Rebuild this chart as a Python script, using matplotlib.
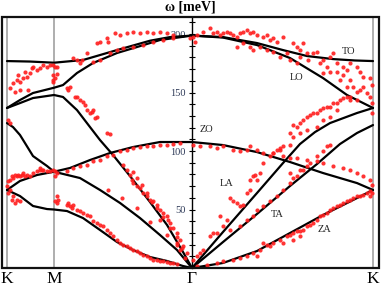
import matplotlib
matplotlib.use("Agg")
import matplotlib.pyplot as plt
import numpy as np
from matplotlib.patches import Rectangle
from matplotlib.ticker import FixedLocator, MultipleLocator

# high-symmetry points along the path (arbitrary path units)
sym_labels = ["K", "M", "Γ", "K"]
sym_q = [0, 47, 185, 366]
Q_G = 185

# calculated branches: path position q and energy E [meV]
to_q = [0, 23, 47, 76, 110, 143, 163, 185, 216, 250, 276, 300, 326, 348, 366]
to_E = [176.9, 176.5, 175.5, 177.8, 186.3, 194.3, 197.4, 198.7, 197.4, 192.3, 186.3, 181.2, 178.6, 177.4, 176.9]

lo_q = [0, 13, 26, 47, 56, 70, 86, 110, 130, 153, 185, 216, 250, 283, 316, 340, 366]
lo_E = [136.8, 143.6, 149.6, 154.1, 156.4, 166.7, 175.2, 183.8, 188.9, 194.9, 198.7, 197.0, 190.6, 179.5, 162.4, 147.9, 136.8]

la_q = [0, 13, 26, 47, 56, 70, 83, 93, 106, 123, 143, 160, 176, 185, 216, 250, 276, 293, 308, 323, 350, 366]
la_E = [136.8, 141.0, 145.3, 147.9, 146.2, 135.0, 120.5, 109.4, 96.6, 78.6, 56.4, 36.8, 13.7, 0.0,
        30.8, 64.1, 89.7, 106.0, 116.2, 123.9, 132.5, 136.8]

ta_q = [0, 6, 13, 18, 26, 40, 47, 73, 93, 113, 133, 153, 170, 185, 216, 250, 283, 310, 333, 350, 366]
ta_E = [123.9, 120.5, 113.7, 106.8, 95.7, 87.2, 82.3, 76.9, 66.7, 55.6, 42.7, 28.2, 15.4, 0.0,
        22.2, 46.2, 70.1, 88.9, 106.0, 115.4, 122.2]

zo_q = [0, 13, 30, 47, 63, 83, 103, 126, 153, 185, 216, 250, 283, 316, 350, 366]
zo_E = [66.7, 74.4, 79.5, 82.3, 85.5, 92.3, 98.3, 103.4, 107.7, 107.7, 105.1, 99.1, 90.6, 81.2, 72.6, 66.7]

za_q = [0, 13, 26, 40, 47, 60, 76, 93, 110, 126, 143, 160, 176, 185, 216, 250, 283, 316, 350, 366]
za_E = [66.7, 61.5, 53.0, 50.4, 50.0, 48.7, 42.7, 32.5, 22.2, 15.4, 9.4, 6.0, 1.7, 0.0,
        4.3, 14.5, 29.9, 45.3, 59.8, 66.7]

branches = [(to_q, to_E), (lo_q, lo_E), (la_q, la_E), (ta_q, ta_E), (zo_q, zo_E), (za_q, za_E)]

km_q = [3, 6, 10, 11, 13, 16, 18, 20, 23, 25, 26, 30, 33, 36, 40, 43, 46, 48, 50, 8, 13, 21, 46, 46,
        3, 1,
        0, 1, 3, 5, 6, 8, 10, 11, 13, 15, 16, 18, 20, 23, 26, 30, 33, 36, 40, 43, 46, 48, 50,
        1, 3, 6, 10, 13, 5, 8, 33, 35, 48, 50, 48, 51, 50]
km_E = [153.8, 158.1, 160.7, 165, 159, 162.4, 167.5, 163.2, 166.7, 170.9, 171.8, 169.2, 170.9, 173.5,
        171.8, 173.5, 173.5, 171.8, 171.8, 150.4, 152.1, 152.1, 165, 160.7,
        123.9, 126.5,
        70.1, 74.4, 75.2, 78.6, 76.9, 79.5, 78.6, 79.5, 78.6, 79.5, 81.2, 78.6, 79.5, 78.6, 81.2, 82.9,
        83.8, 83.8, 82.9, 82.9, 83.8, 82.9, 81.2,
        64.1, 66.7, 61.5, 58.1, 57.3, 58.1, 55.6, 85.5, 83.8, 78.6, 61.5, 57.3, 58.1, 55.6]

mg_q = [90, 93, 100, 101, 108, 113, 120, 126, 133, 140, 146, 153, 160, 166,
        103, 110, 116, 126, 136, 146, 156, 166, 93, 86, 80, 70, 73, 66, 75, 50, 48, 46,
        60, 61, 63, 70, 73, 76, 80, 83, 86, 90, 88, 100, 103, 68, 78, 85,
        60, 61, 63, 65, 66, 70, 73, 76, 80, 83, 86, 90, 93, 96, 100, 103, 106, 110, 113, 116,
        120, 123, 126, 130, 133, 136, 140, 143, 146, 150, 153, 156, 160, 163, 166, 170,
        60, 66, 73, 80, 86, 93, 100, 106, 113, 120, 126, 133, 140, 146, 153, 160, 166, 173,
        116, 120, 123, 125, 126, 130, 133, 136, 140, 143, 146, 150, 153, 156, 160, 161, 163, 166,
        170, 173, 176, 180, 130, 153, 170, 173,
        101, 115, 143, 160, 170, 126, 130, 135, 140, 145, 150, 156, 163, 170, 175, 178]
mg_E = [192.3, 193.2, 196.6, 193.2, 200.9, 199.1, 200.9, 201.7, 200.9, 201.7, 200.9, 201.7, 200.9, 199.1,
        183.8, 186.3, 188, 188.9, 190.6, 193.2, 194.9, 196.6, 177.8, 176.1, 183.8, 177.8, 175.2, 179.5,
        177.8, 166, 162, 159,
        153.8, 152.1, 154.7, 146.2, 143.6, 141.9, 135, 132.5, 135, 129.1, 128.2, 115.4, 114.5, 146.2,
        139.3, 133.3,
        53.8, 55.6, 53, 51.3, 53.8, 49.6, 48.7, 47, 45.3, 44.4, 40.2, 38.5, 36.8, 35.9, 32.5, 29.9,
        27.4, 23.9, 21.4, 19.7, 18.8, 17.1, 15.4, 14.5, 12.8, 11.1, 10.3, 8.5, 6.8, 6.8, 6, 6, 5.1,
        4.3, 4.3, 3.4,
        82.9, 85.5, 87.2, 88, 91.5, 92.3, 95.7, 96.6, 100, 100.9, 102.6, 103.4, 104.3, 104.3, 105.1,
        105.1, 106, 106.8,
        88, 83.8, 79.5, 75.2, 72.6, 70.1, 68.4, 64.1, 61.5, 58.1, 57.3, 53.8, 49.6, 47, 44.4, 41,
        38.5, 34.2, 29.9, 23.9, 18.8, 12.8, 51.3, 41, 21.4, 15.4,
        66.7, 59.8, 39.3, 28.2, 19.7, 82, 76.9, 70.9, 64.1, 56.4, 51.3, 43.6, 34.2, 26.5, 17.1, 8.5]

gk_q = [183, 186, 190, 188, 196, 203, 206, 210, 213, 216, 220, 223, 226, 230, 233, 236, 240, 243,
        246, 250, 256, 260, 263, 266, 270, 276, 230, 236, 243, 246, 253, 260, 266, 273, 280, 283,
        286, 290, 293, 296, 290, 293, 300, 301, 306, 310, 313, 316, 320, 323, 326, 330, 336, 340,
        343, 350, 353, 356, 363, 365, 316, 323, 330, 333, 336, 340, 343, 346, 350, 353, 356, 360,
        363, 365, 365, 350, 343,
        286, 290, 293, 296, 300, 303, 306, 310, 313, 316, 320, 323, 326, 330, 333, 336, 340, 343,
        283, 286, 293, 300, 310, 316, 323, 330,
        186, 193, 203, 210, 216, 226, 233, 240, 250, 256, 266, 276, 283, 290, 300, 310, 316, 326,
        336, 343, 350, 356, 363, 365, 365, 363, 243, 273,
        186, 190, 193, 196, 203, 206, 213, 216, 220, 223, 226, 230, 233, 236, 240, 243, 246, 248,
        250, 253, 256, 263, 266, 270, 273, 276, 283, 210, 223, 233, 240, 246, 250, 256, 263, 270,
        276, 283, 290, 296, 303, 310, 316, 320, 323, 283, 286, 293, 300, 243,
        190, 200, 210, 216, 226, 233, 240, 246, 253, 256, 260, 266, 273, 280, 283, 286, 290, 293,
        296, 300, 303, 306, 310, 313, 316, 320, 323, 326, 330, 333, 336, 340, 343, 346, 350, 353,
        356, 360, 363, 286, 293, 276, 250, 263]
gk_E = [196.6, 197.4, 199.1, 193.2, 201.7, 205.1, 200.9, 201.7, 199.1, 200.9, 201.7, 200.9, 199.1,
        197.4, 200.9, 201.7, 203.4, 200.9, 201.7, 199.1, 197.4, 199.1, 194.9, 196.6, 193.2, 197.4,
        188.9, 192.3, 188.9, 186.3, 188.9, 186.3, 184.6, 180.3, 183.8, 177.8, 192.3, 188.9, 186.3,
        192.3, 175.2, 180.3, 183.8, 177.8, 183.8, 184.6, 175.2, 177.8, 171.8, 180.3, 183.8, 175.2,
        171.8, 169.2, 175.2, 171.8, 167.5, 163.2, 162.4, 156.4, 166.7, 167.5, 167.5, 160.7, 165,
        154.7, 160.7, 154.7, 150.4, 152.1, 154.7, 149.6, 146.2, 141, 132.5, 143.6, 146.2,
        122.2, 120.5, 123.9, 126.5, 129.1, 130.8, 132.5, 132.5, 135, 136.8, 137.6, 137.6, 141, 141,
        143.6, 145.3, 146.2, 143.6, 115.4, 112, 115.4, 117.9, 120.5, 126.5, 129.1, 135,
        105.1, 104.3, 104.3, 102.6, 104.3, 100.9, 100, 100.9, 100.9, 98.3, 98.3, 95.7, 94, 94, 92.3,
        91.5, 89.7, 87.2, 85.5, 83.8, 81.2, 78.6, 75.2, 70.9, 64.1, 61.5, 104.3, 100.9,
        6.8, 10.3, 12.8, 15.4, 27.4, 29.9, 44.4, 35.9, 41, 59.8, 57.3, 55.6, 53, 53.8, 64.1, 66.7,
        78.6, 79.5, 75.2, 81.2, 89.7, 95.7, 98.3, 100.9, 102.6, 104.3, 105.1, 29.9, 32.5, 35.9, 41,
        44.4, 49.6, 53, 57.3, 61.5, 66.7, 72.6, 78.6, 83.8, 89.7, 95.7, 100, 104.3, 105.1, 81.2,
        76.9, 83.8, 87.2, 75.2,
        1.7, 2.6, 4.3, 6, 6.8, 8.5, 10.3, 12.8, 15.4, 21.4, 19.7, 21.4, 23.9, 27.4, 28.2, 29.9, 31.6,
        31.6, 32.5, 35.9, 36.8, 38.5, 41, 44.4, 45.3, 47, 49.6, 51.3, 53, 53.8, 55.6, 57.3, 58.1,
        59.8, 61.5, 61.5, 62.4, 64.1, 65.8, 23.9, 27.4, 21.4, 10.3, 18.8]

branch_names = ["TO", "LO", "ZO", "LA", "TA", "ZA"]
name_q = [342, 290, 199, 220, 270, 317]
name_E = [185.5, 163, 118, 72.6, 46, 32.5]

serif = ["Liberation Serif", "DejaVu Serif"]
plt.rcParams["font.family"] = serif

fig = plt.figure(figsize=(3.81, 2.86), dpi=100)
ax = fig.add_axes([1.5 / 381, 18 / 286, 377.5 / 381, 251.5 / 286])
ax.set_xlim(-5.5, 372)
ax.set_ylim(0, 215)

# gray verticals at K, M, K
for q in [sym_q[0], sym_q[1], sym_q[3]]:
    ax.axvline(q, color="#a8a8a8", lw=1.3, zorder=1)

for bq, bE in branches:
    ax.plot(bq, bE, color="black", lw=1.6, zorder=2, solid_capstyle="round")

for dq, dE in [(km_q, km_E), (mg_q, mg_E), (gk_q, gk_E)]:
    ax.plot(dq, dE, "o", color="#ff1e1e", ms=3.0, mew=0, alpha=0.9, zorder=3)

for name, q, E in zip(branch_names, name_q, name_E):
    ax.text(q, E, name, fontsize=7.5, ha="center", va="center", color="#222222")

# energy axis through Gamma
for s in ["top", "right", "bottom"]:
    ax.spines[s].set_visible(False)
ax.spines["left"].set_position(("data", Q_G))
ax.spines["left"].set_linewidth(1.0)
ax.yaxis.set_major_locator(FixedLocator([50, 100, 150, 200]))
ax.yaxis.set_minor_locator(MultipleLocator(10))
ax.tick_params(axis="y", which="both", direction="inout", length=5, width=0.8, pad=2,
               labelsize=7.5, labelcolor="#2e3a58")

ax.set_xticks(sym_q)
ax.set_xticklabels(sym_labels)
ax.tick_params(axis="x", length=0, pad=2, labelsize=12.5)

ax.add_patch(Rectangle((0, 0), 1, 1, transform=ax.transAxes, fill=False,
                       lw=1.6, edgecolor="#111111", clip_on=False, zorder=5))

fig.text(0.5, 0.998, "ω [meV]", ha="center", va="top", fontsize=10, fontweight="bold")

fig.savefig("out.png", dpi=100)
plt.close(fig)
